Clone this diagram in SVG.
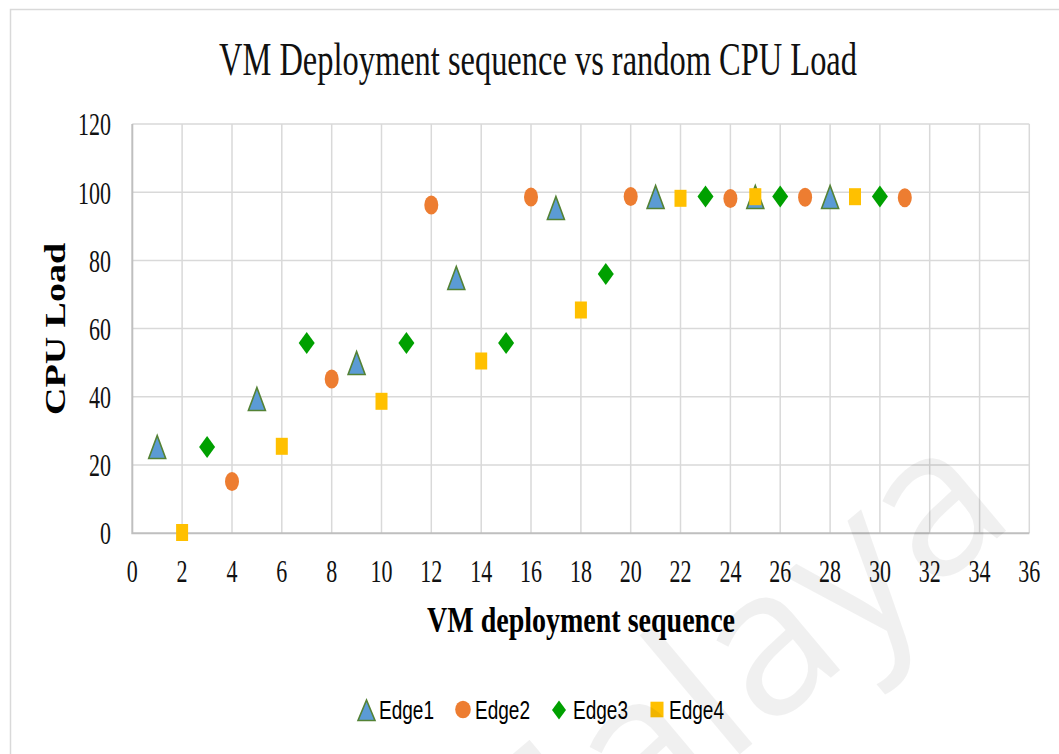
<svg xmlns="http://www.w3.org/2000/svg" width="1059" height="754" viewBox="0 0 1059 754">
  <style>
    .grid { stroke: #d9d9d9; stroke-width: 1.5; fill: none; }
    .axis { stroke: #bfbfbf; stroke-width: 2; fill: none; }
    .tick { font-family: "Liberation Serif", "Times New Roman", serif; font-size: 32px; fill: #111; }
    .ytick { text-anchor: end; }
    .xtick { text-anchor: middle; }
    .title { font-family: "Liberation Serif", "Times New Roman", serif; font-size: 47px; fill: #111; text-anchor: middle; }
    .axtitle { font-family: "Liberation Serif", "Times New Roman", serif; font-size: 36px; font-weight: bold; fill: #000; text-anchor: middle; }
    .legend { font-family: "Liberation Sans", Arial, sans-serif; font-size: 26px; fill: #000; }
    .e1 { fill: #5b9bd5; stroke: #548235; stroke-width: 1.6; }
    .e2 { fill: #ed7d31; }
    .e3 { fill: #00a000; }
    .e4 { fill: #ffc000; }
  </style>
  <defs>
    <polygon id="tri" points="0,-11.5 8.5,11.5 -8.5,11.5"/>
    <ellipse id="dot" cx="0" cy="0" rx="7" ry="9.5"/>
    <polygon id="dia" points="0,-11 8,0 0,11 -8,0"/>
    <rect id="sq" x="-6" y="-8.5" width="12" height="17"/>
  </defs>

  <rect width="1059" height="754" fill="#ffffff"/>
  <!-- chart frame -->
  <rect x="10.5" y="9.5" width="1100" height="800" fill="none" stroke="#d9d9d9" stroke-width="1.5"/>

  <!-- title -->
  <text class="title" x="538" y="75" textLength="638" lengthAdjust="spacingAndGlyphs">VM Deployment sequence vs random CPU Load</text>

  <!-- plot grid -->
  <g id="grid">
    <path class="grid" d="M132.3,124 H1029.3 M132.3,192.2 H1029.3 M132.3,260.4 H1029.3 M132.3,328.5 H1029.3 M132.3,396.7 H1029.3 M132.3,464.9 H1029.3"/>
    <path class="grid" d="M182.1,124 V533.3 M232,124 V533.3 M281.8,124 V533.3 M331.7,124 V533.3 M381.5,124 V533.3 M431.3,124 V533.3 M481.2,124 V533.3 M531,124 V533.3 M580.9,124 V533.3 M630.7,124 V533.3 M680.5,124 V533.3 M730.4,124 V533.3 M780.2,124 V533.3 M830.1,124 V533.3 M879.9,124 V533.3 M929.7,124 V533.3 M979.6,124 V533.3 M1029.3,124 V533.3"/>
    <path class="axis" d="M132.3,124 V533.3 H1029.3"/>
  </g>

  <!-- y tick labels -->
  <g id="y-ticks" class="tick ytick">
    <text x="111" y="135" textLength="33" lengthAdjust="spacingAndGlyphs">120</text>
    <text x="111" y="204" textLength="33" lengthAdjust="spacingAndGlyphs">100</text>
    <text x="111" y="272" textLength="22" lengthAdjust="spacingAndGlyphs">80</text>
    <text x="111" y="340" textLength="22" lengthAdjust="spacingAndGlyphs">60</text>
    <text x="111" y="408" textLength="22" lengthAdjust="spacingAndGlyphs">40</text>
    <text x="111" y="476" textLength="22" lengthAdjust="spacingAndGlyphs">20</text>
    <text x="111" y="544" textLength="11" lengthAdjust="spacingAndGlyphs">0</text>
  </g>

  <!-- x tick labels -->
  <g id="x-ticks" class="tick xtick">
    <text x="132.3" y="582" textLength="11" lengthAdjust="spacingAndGlyphs">0</text>
    <text x="182.1" y="582" textLength="11" lengthAdjust="spacingAndGlyphs">2</text>
    <text x="232" y="582" textLength="11" lengthAdjust="spacingAndGlyphs">4</text>
    <text x="281.8" y="582" textLength="11" lengthAdjust="spacingAndGlyphs">6</text>
    <text x="331.7" y="582" textLength="11" lengthAdjust="spacingAndGlyphs">8</text>
    <text x="381.5" y="582" textLength="22" lengthAdjust="spacingAndGlyphs">10</text>
    <text x="431.3" y="582" textLength="22" lengthAdjust="spacingAndGlyphs">12</text>
    <text x="481.2" y="582" textLength="22" lengthAdjust="spacingAndGlyphs">14</text>
    <text x="531" y="582" textLength="22" lengthAdjust="spacingAndGlyphs">16</text>
    <text x="580.9" y="582" textLength="22" lengthAdjust="spacingAndGlyphs">18</text>
    <text x="630.7" y="582" textLength="22" lengthAdjust="spacingAndGlyphs">20</text>
    <text x="680.5" y="582" textLength="22" lengthAdjust="spacingAndGlyphs">22</text>
    <text x="730.4" y="582" textLength="22" lengthAdjust="spacingAndGlyphs">24</text>
    <text x="780.2" y="582" textLength="22" lengthAdjust="spacingAndGlyphs">26</text>
    <text x="830.1" y="582" textLength="22" lengthAdjust="spacingAndGlyphs">28</text>
    <text x="879.9" y="582" textLength="22" lengthAdjust="spacingAndGlyphs">30</text>
    <text x="929.7" y="582" textLength="22" lengthAdjust="spacingAndGlyphs">32</text>
    <text x="979.6" y="582" textLength="22" lengthAdjust="spacingAndGlyphs">34</text>
    <text x="1029.3" y="582" textLength="22" lengthAdjust="spacingAndGlyphs">36</text>
  </g>

  <!-- axis titles -->
  <text class="axtitle" x="581" y="632" textLength="308" lengthAdjust="spacingAndGlyphs">VM deployment sequence</text>
  <text class="axtitle" transform="translate(65,329) scale(0.84,1) rotate(-90)" x="0" y="0" textLength="172" lengthAdjust="spacingAndGlyphs">CPU Load</text>

  <!-- data series -->
  <g id="series-edge1" class="e1">
    <use href="#tri" x="157.2" y="447"/>
    <use href="#tri" x="256.9" y="399"/>
    <use href="#tri" x="356.6" y="363"/>
    <use href="#tri" x="456.3" y="278"/>
    <use href="#tri" x="555.9" y="208"/>
    <use href="#tri" x="655.6" y="197"/>
    <use href="#tri" x="755.3" y="197"/>
    <use href="#tri" x="830.1" y="197"/>
  </g>
  <g id="series-edge2" class="e2">
    <use href="#dot" x="232" y="481.5"/>
    <use href="#dot" x="331.7" y="379"/>
    <use href="#dot" x="431.3" y="205"/>
    <use href="#dot" x="531" y="197"/>
    <use href="#dot" x="630.7" y="196.5"/>
    <use href="#dot" x="730.4" y="198.5"/>
    <use href="#dot" x="805.1" y="197.3"/>
    <use href="#dot" x="904.8" y="197.7"/>
  </g>
  <g id="series-edge3" class="e3">
    <use href="#dia" x="207.1" y="447"/>
    <use href="#dia" x="306.7" y="343"/>
    <use href="#dia" x="406.4" y="343"/>
    <use href="#dia" x="506.1" y="343"/>
    <use href="#dia" x="605.8" y="274"/>
    <use href="#dia" x="705.5" y="196.5"/>
    <use href="#dia" x="780.2" y="196.5"/>
    <use href="#dia" x="879.9" y="196.5"/>
  </g>
  <g id="series-edge4" class="e4">
    <use href="#sq" x="182.1" y="532.5"/>
    <use href="#sq" x="281.8" y="446.3"/>
    <use href="#sq" x="381.5" y="401.3"/>
    <use href="#sq" x="481.2" y="361"/>
    <use href="#sq" x="580.9" y="310"/>
    <use href="#sq" x="680.5" y="198.3"/>
    <use href="#sq" x="755.3" y="196.7"/>
    <use href="#sq" x="855" y="196.7"/>
  </g>

  <!-- legend -->
  <g id="legend">
    <polygon class="e1" points="366.5,700 375,720.5 358,720.5"/>
    <text class="legend" x="379" y="719" textLength="55" lengthAdjust="spacingAndGlyphs">Edge1</text>
    <ellipse class="e2" cx="463" cy="709.5" rx="7.8" ry="8.8"/>
    <text class="legend" x="475" y="719" textLength="55" lengthAdjust="spacingAndGlyphs">Edge2</text>
    <polygon class="e3" points="559,700.5 566,710 559,719.5 552,710"/>
    <text class="legend" x="573" y="719" textLength="55" lengthAdjust="spacingAndGlyphs">Edge3</text>
    <rect class="e4" x="650.5" y="701.7" width="13" height="15.6"/>
    <text class="legend" x="669" y="719" textLength="55" lengthAdjust="spacingAndGlyphs">Edge4</text>
  </g>

  <!-- faint background stamp -->
  <text x="0" y="0" transform="translate(1019,520) rotate(-40)" text-anchor="end" font-family="'Open Sans', 'Liberation Sans', sans-serif" font-size="205" fill="#000" fill-opacity="0.06">Malaya</text>
</svg>
